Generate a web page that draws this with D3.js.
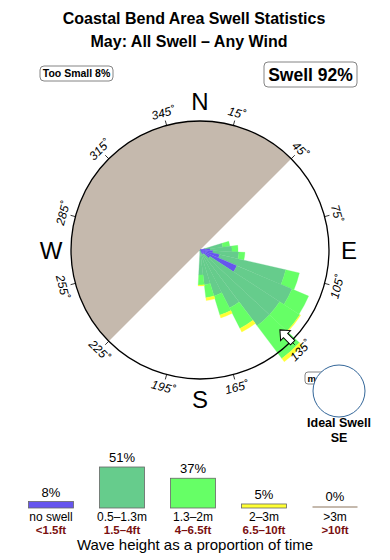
<!DOCTYPE html>
<html><head><meta charset="utf-8">
<script src="https://cdn.jsdelivr.net/npm/d3@7"></script>
<style>body{margin:0;background:#fff}svg{display:block;font-family:"Liberation Sans",Arial,sans-serif}</style>
</head><body>
<script>
// ---- data ----
const title = "Coastal Bend Area Swell Statistics";
const subtitle = "May: All Swell \u2013 Any Wind";
const tooSmallLabel = "Too Small 8%";
const swellLabel = "Swell 92%";
const bearings = [78, 88, 98, 108, 118, 128, 138, 148, 158, 168, 178];
const noSwell   = [0.5, 1.0, 1.3, 2.0, 4.0, 1.2, 0.5, 0.5, 0.3, 0, 0];
const band1     = [1.8, 2.2, 2.6, 6.8, 6.0, 8.3, 9.0, 6.0, 4.5, 3.5, 2.5];
const band2     = [0.7, 0.6, 0.6, 1.4, 1.8, 2.4, 4.1, 2.3, 2.0, 1.3, 1.0];
const band3     = [0, 0, 0, 0, 0, 0.1, 0.4, 0.4, 0.3, 0.3, 0.1];
const band4     = [0, 0, 0, 0, 0, 0, 0, 0, 0, 0, 0];
const tickBearings = [15, 45, 75, 105, 135, 165, 195, 225, 255, 285, 315, 345];
const compassLetters = ["N", "E", "S", "W"];
const compassBearings = [0, 90, 180, 270];
const shadowFrom = 225, shadowTo = 405;
const idealBearing = 135;
const idealLabel = ["Ideal Swell", "SE"];
const legendPct = [8, 51, 37, 5, 0];
const legendMetric = ["no swell", "0.5\u20131.3m", "1.3\u20132m", "2\u20133m", ">3m"];
const legendFeet = ["<1.5ft", "1.5\u20134ft", "4\u20136.5ft", "6.5\u201310ft", ">10ft"];
const legendColors = ["#6655ee", "#66cc8c", "#66ff66", "#ffff33", "#c5b9ad"];
const legendTitle = "Wave height as a proportion of time";

// ---- layout ----
const W = 390, H = 560, cx = 200, cy = 250, R = 129;
const svg = d3.select("body").append("svg").attr("width", W).attr("height", H);

svg.append("text").attr("x", 194).attr("y", 24).attr("text-anchor", "middle")
  .attr("font-size", 16).attr("font-weight", "bold").text(title);
svg.append("text").attr("x", 189).attr("y", 47).attr("text-anchor", "middle")
  .attr("font-size", 16).attr("font-weight", "bold").text(subtitle);

function labelBox(x, y, w, h, txt, fs) {
  svg.append("rect").attr("x", x).attr("y", y).attr("width", w).attr("height", h)
    .attr("rx", 4).attr("fill", "#fff").attr("stroke", "#666").attr("stroke-width", 0.8);
  svg.append("text").attr("x", x + w / 2).attr("y", y + h / 2).attr("dy", "0.36em")
    .attr("text-anchor", "middle").attr("font-size", fs).attr("font-weight", "bold").text(txt);
}
labelBox(40, 66, 73, 15, tooSmallLabel, 10.5);
labelBox(264, 62, 93, 25, swellLabel, 17.5);

const g = svg.append("g").attr("transform", `translate(${cx},${cy})`);
const rad = d => d * Math.PI / 180;
const rScale = d3.scaleLinear().domain([0, 12.9]).range([0, R]);

g.append("circle").attr("r", R).attr("fill", "#fff");
g.append("path").attr("d", d3.arc()({innerRadius: 0, outerRadius: R, startAngle: rad(shadowFrom), endAngle: rad(shadowTo)}))
  .attr("fill", "#c5b9ad");

// petals
const layers = [noSwell, band1, band2, band3, band4];
const arc = d3.arc();
bearings.forEach((b, i) => {
  let acc = 0;
  layers.forEach((L, k) => {
    const v = L[i];
    if (v <= 0) return;
    g.append("path").attr("d", arc({innerRadius: rScale(acc), outerRadius: rScale(acc + v),
        startAngle: rad(b - 5), endAngle: rad(b + 5)}))
      .attr("fill", legendColors[k]).attr("stroke", legendColors[k]).attr("stroke-width", 0.3);
    acc += v;
  });
});

g.append("circle").attr("r", R).attr("fill", "none").attr("stroke", "#000").attr("stroke-width", 1.3);

// ticks & labels
tickBearings.forEach(b => {
  const s = Math.sin(rad(b)), c = -Math.cos(rad(b));
  g.append("line").attr("x1", s * R).attr("y1", c * R).attr("x2", s * (R + 5)).attr("y2", c * (R + 5))
    .attr("stroke", "#000").attr("stroke-width", 0.8);
  let rot = b > 180 ? b - 360 : b;
  if (rot > 90) rot -= 180;
  if (rot < -90) rot += 180;
  const lr = R + 13;
  g.append("text").attr("transform", `translate(${s * lr},${c * lr}) rotate(${rot})`)
    .attr("text-anchor", "middle").attr("dy", "0.35em").attr("font-size", 12).attr("font-style", "italic")
    .text(b + "\u02da");
});
compassLetters.forEach((t, i) => {
  const b = compassBearings[i], s = Math.sin(rad(b)), c = -Math.cos(rad(b));
  const lr = 149;
  g.append("text").attr("x", s * lr).attr("y", c * lr).attr("dy", "0.36em").attr("text-anchor", "middle")
    .attr("font-size", 24).text(t);
});

// ideal swell arrow (pointing inward)
{
  const tip = R - 16, hb = R - 8, tail = R + 2;
  const a = g.append("g").attr("transform", `rotate(${idealBearing})`);
  a.append("path")
    .attr("d", `M0,${-tip} L7,${-hb} L3,${-hb} L3,${-tail} L-3,${-tail} L-3,${-hb} L-7,${-hb} Z`)
    .attr("fill", "#fff").attr("stroke", "#000").attr("stroke-width", 1);
}

// ideal swell inset
svg.append("rect").attr("x", 305).attr("y", 372).attr("width", 20).attr("height", 12).attr("rx", 3)
  .attr("fill", "#fff").attr("stroke", "#666").attr("stroke-width", 0.8);
svg.append("text").attr("x", 307.5).attr("y", 381.5).attr("font-size", 9.5).attr("font-weight", "bold").text("m");
svg.append("circle").attr("cx", 339).attr("cy", 391).attr("r", 26).attr("fill", "#fff")
  .attr("stroke", "#336699").attr("stroke-width", 1);
svg.append("text").attr("x", 339).attr("y", 427).attr("text-anchor", "middle").attr("font-size", 12.5)
  .attr("font-weight", "bold").text(idealLabel[0]);
svg.append("text").attr("x", 339).attr("y", 442).attr("text-anchor", "middle").attr("font-size", 12.5)
  .attr("font-weight", "bold").text(idealLabel[1]);

// legend
const lx = d3.scalePoint().domain(legendMetric).range([51, 335]);
const lh = d3.scaleLinear().domain([0, 51]).range([0, 41]);
const base = 508;
legendMetric.forEach((m, i) => {
  const x = lx(m), h = Math.max(lh(legendPct[i]), 2);
  svg.append("rect").attr("x", x - 22.5).attr("y", base - h).attr("width", 45).attr("height", h)
    .attr("fill", legendColors[i]).attr("stroke", i === 4 ? "none" : "#666").attr("stroke-width", 0.8);
  svg.append("text").attr("x", x).attr("y", base - h - 5).attr("text-anchor", "middle").attr("font-size", 13)
    .text(legendPct[i] + "%");
  svg.append("text").attr("x", x).attr("y", 520.5).attr("text-anchor", "middle").attr("font-size", 12).text(m);
  svg.append("text").attr("x", x).attr("y", 533.5).attr("text-anchor", "middle").attr("font-size", 11.5)
    .attr("font-weight", "bold").attr("fill", "#7a1010").text(legendFeet[i]);
});
svg.append("text").attr("x", 195).attr("y", 550).attr("text-anchor", "middle").attr("font-size", 15).text(legendTitle);
</script>
</body></html>
